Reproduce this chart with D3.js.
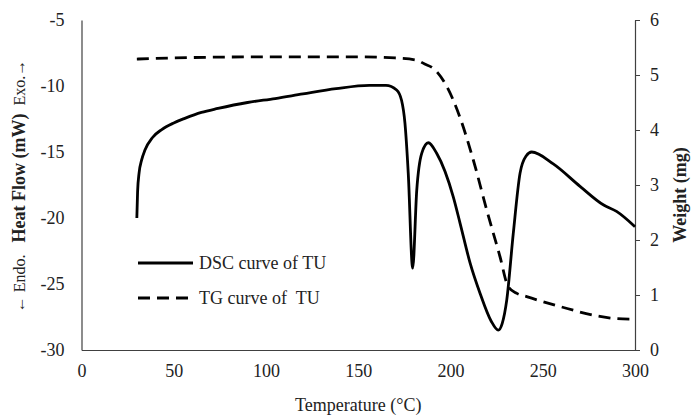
<!DOCTYPE html>
<html>
<head>
<meta charset="utf-8">
<script src="https://cdn.jsdelivr.net/npm/d3@7"></script>
<style>
  body { margin: 0; background: #fff; }
  text { font-family: "Liberation Serif", "Times New Roman", serif; }
</style>
</head>
<body>
<div id="chart"></div>
<script>
// DSC curve: temperature (°C) vs heat flow (mW)
const dscTemp = [30, 30.4, 31.2, 32.6, 34.4, 38.5, 43.5, 50, 56, 65, 74, 90, 105, 120, 138, 156, 165, 170.8, 173.5, 175.3, 177.1, 179.5, 181.7, 184.4, 188, 192.5, 201.5, 205.2, 210.6, 216, 222, 225.9, 228, 230.5, 234, 237.7, 241, 244, 255.7, 270.2, 282.8, 290, 300];
const dscFlow = [-20, -18, -16.6, -15.6, -14.85, -13.9, -13.3, -12.8, -12.45, -12.0, -11.7, -11.25, -10.95, -10.6, -10.2, -9.95, -9.95, -10.3, -11.1, -12.8, -16.6, -23.8, -17.9, -15.1, -14.3, -15.1, -18.4, -20.4, -23.4, -25.7, -27.8, -28.5, -28.0, -26.2, -21.2, -16.6, -15.3, -15.0, -15.9, -17.6, -19.0, -19.5, -20.66];

// TG curve: temperature (°C) vs weight (mg)
const tgTemp = [30, 50, 100, 150, 170, 181.7, 186, 190.7, 198, 205, 212.4, 219.6, 226.8, 231.3, 236, 241.3, 259.4, 281, 290, 299];
const tgWeight = [5.29, 5.31, 5.33, 5.33, 5.31, 5.27, 5.2, 5.12, 4.79, 4.24, 3.45, 2.55, 1.7, 1.15, 1.03, 0.97, 0.79, 0.61, 0.57, 0.56];

const xTicks = [0, 50, 100, 150, 200, 250, 300];
const flowTicks = [-5, -10, -15, -20, -25, -30];
const weightTicks = [0, 1, 2, 3, 4, 5, 6];

const legendLabels = ["DSC curve of TU", "TG curve of\u00a0 TU"];

const W = 691, H = 417;
const margin = { top: 20, right: 56, bottom: 67, left: 81.5 };

const svg = d3.select("#chart").append("svg")
    .attr("width", W)
    .attr("height", H);

const x = d3.scaleLinear().domain([0, 300]).range([margin.left, W - margin.right]);
const yFlow = d3.scaleLinear().domain([-30, -5]).range([H - margin.bottom, margin.top]);
const yWeight = d3.scaleLinear().domain([0, 6]).range([H - margin.bottom, margin.top]);

const axisColor = "#404040";

// bottom axis
const xAxis = svg.append("g")
    .attr("transform", `translate(0,${H - margin.bottom})`)
    .call(d3.axisBottom(x).tickValues(xTicks).tickSize(0).tickPadding(14));

// left axis
const yAxisL = svg.append("g")
    .attr("transform", `translate(${margin.left},0)`)
    .call(d3.axisLeft(yFlow).tickValues(flowTicks).tickSize(0).tickPadding(17).tickFormat(d => String(d)));

// right axis
const yAxisR = svg.append("g")
    .attr("transform", `translate(${W - margin.right},0)`)
    .call(d3.axisRight(yWeight).tickValues(weightTicks).tickSizeInner(5).tickSizeOuter(0).tickPadding(10).tickFormat(d => String(d)));

[xAxis, yAxisL, yAxisR].forEach(g => {
    g.select(".domain").attr("stroke", axisColor).attr("stroke-width", 1.2);
    g.selectAll(".tick line").attr("stroke", axisColor);
    g.selectAll(".tick text")
        .attr("fill", "#222")
        .style("font-size", "18px")
        .style("font-family", "'Liberation Serif', serif");
});

// curves
const dscData = dscTemp.map((t, i) => [t, dscFlow[i]]);
const tgData = tgTemp.map((t, i) => [t, tgWeight[i]]);

svg.append("path")
    .datum(dscData)
    .attr("fill", "none")
    .attr("stroke", "#000")
    .attr("stroke-width", 2.8)
    .attr("d", d3.line().x(d => x(d[0])).y(d => yFlow(d[1])).curve(d3.curveMonotoneX));

svg.append("path")
    .datum(tgData)
    .attr("fill", "none")
    .attr("stroke", "#000")
    .attr("stroke-width", 2.8)
    .attr("stroke-dasharray", "12,7")
    .attr("d", d3.line().x(d => x(d[0])).y(d => yWeight(d[1])).curve(d3.curveMonotoneX));

// legend
const legend = svg.append("g").attr("transform", "translate(138,263)");
legend.selectAll("line")
    .data(legendLabels)
    .enter().append("line")
    .attr("x1", 0)
    .attr("x2", 55)
    .attr("y1", (d, i) => i * 35)
    .attr("y2", (d, i) => i * 35)
    .attr("stroke", "#000")
    .attr("stroke-width", 2.8)
    .attr("stroke-dasharray", (d, i) => i === 1 ? "12,7" : null);
legend.selectAll("text")
    .data(legendLabels)
    .enter().append("text")
    .attr("x", 61)
    .attr("y", (d, i) => i * 35 + 6)
    .style("font-size", "18px")
    .attr("fill", "#222")
    .text(d => d);

// axis titles
svg.append("text")
    .attr("x", (margin.left + W - margin.right) / 2)
    .attr("y", 411)
    .attr("text-anchor", "middle")
    .style("font-size", "18px")
    .attr("fill", "#222")
    .text("Temperature (\u00b0C)");

const leftTitle = svg.append("text")
    .attr("transform", "translate(25,186) rotate(-90)")
    .attr("text-anchor", "middle")
    .style("font-size", "18px")
    .attr("fill", "#222");
leftTitle.append("tspan").style("font-size", "16px").text("\u2190 Endo.\u00a0\u00a0 ");
leftTitle.append("tspan").style("font-weight", "bold").text("Heat Flow (mW)");
leftTitle.append("tspan").style("font-size", "16px").text(" \u00a0Exo.\u2192");

svg.append("text")
    .attr("transform", "translate(686,195) rotate(-90)")
    .attr("text-anchor", "middle")
    .style("font-size", "18px")
    .style("font-weight", "bold")
    .attr("fill", "#222")
    .text("Weight (mg)");
</script>
</body>
</html>
